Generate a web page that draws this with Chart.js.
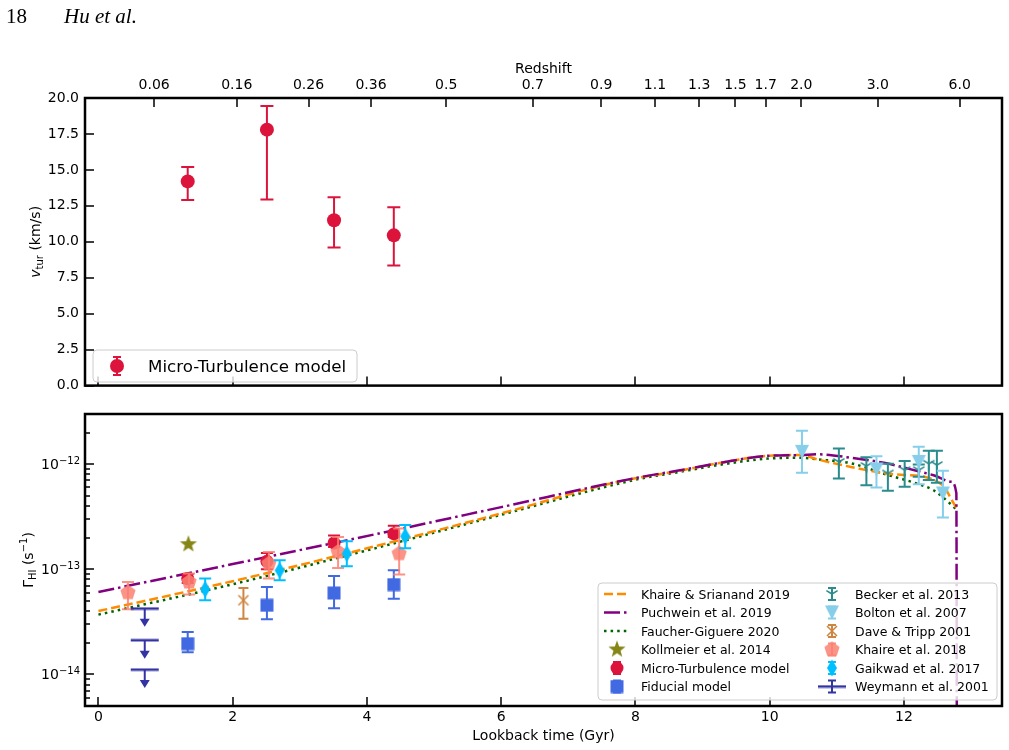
<!DOCTYPE html>
<html>
<head>
<meta charset="utf-8">
<script src="https://cdn.jsdelivr.net/npm/chart.js@4.4.1/dist/chart.umd.min.js"></script>
<style>
    body { margin: 0; background: #fff; }
    #page { position: relative; width: 1009px; height: 750px; overflow: hidden; }
    canvas { position: absolute; left: 0; }
    #cTop { top: 0; }
    #cBot { top: 400px; }
    .hdr { position: absolute; top: 6px; font-family: 'Liberation Serif', serif; font-size: 21px; line-height: 21px; }
</style>
</head>
<body>
<div id="page">
    <canvas id="cTop" width="1009" height="400"></canvas>
    <canvas id="cBot" width="1009" height="350"></canvas>
    <div class="hdr" style="left:6px">18</div>
    <div class="hdr" style="left:64px;font-style:italic">Hu et al.</div>
</div>
<script>
// x axis: lookback time (Gyr), top axis shows redshift
const xMin = -0.2, xMax = 13.46;
const xTicks = [0, 2, 4, 6, 8, 10, 12];
const zLabels = ['0.06', '0.16', '0.26', '0.36', '0.5', '0.7', '0.9', '1.1', '1.3', '1.5', '1.7', '2.0', '3.0', '6.0'];
const zTicks = [0.83, 2.06, 3.13, 4.06, 5.18, 6.47, 7.49, 8.29, 8.95, 9.49, 9.94, 10.47, 11.61, 12.83];

// top panel: turbulent velocity
const vTicks = [0, 2.5, 5, 7.5, 10, 12.5, 15, 17.5, 20];
const tMicro = [1.33, 2.51, 3.51, 4.40];
const vtur = [14.2, 17.8, 11.5, 10.45];
const vturLo = [12.9, 12.95, 9.6, 8.35];
const vturHi = [15.2, 19.45, 13.1, 12.4];

// bottom panel: photoionisation rate
const gMin = 5e-15, gMax = 3e-12;
const gTicks = [1e-14, 1e-13, 1e-12];
const gTickExp = ['\u221214', '\u221213', '\u221212'];

const gMicro = [8.15e-14, 1.19e-13, 1.78e-13, 2.18e-13];
const gMicroLo = [7.4e-14, 1.0e-13, 1.63e-13, 2.03e-13];
const gMicroHi = [9.0e-14, 1.43e-13, 2.1e-13, 2.6e-13];

const gFid = [1.96e-14, 4.54e-14, 5.94e-14, 7.15e-14];
const gFidLo = [1.62e-14, 3.34e-14, 4.26e-14, 5.25e-14];
const gFidHi = [2.53e-14, 6.78e-14, 8.63e-14, 9.77e-14];

const tKoll = [1.34];
const gKoll = [1.73e-13];

const tDave = [2.16];
const gDave = [5.07e-14];
const gDaveLo = [3.39e-14];
const gDaveHi = [6.64e-14];

const tKh18 = [0.44, 1.35, 2.54, 3.57, 4.48];
const gKh18 = [6.0e-14, 7.57e-14, 1.13e-13, 1.46e-13, 1.41e-13];
const gKh18Lo = [4.16e-14, 5.75e-14, 8.15e-14, 1.03e-13, 8.9e-14];
const gKh18Hi = [7.57e-14, 9.1e-14, 1.46e-13, 2.03e-13, 2.44e-13];

const tGaik = [1.59, 2.70, 3.70, 4.57];
const gGaik = [6.45e-14, 9.77e-14, 1.41e-13, 2.06e-13];
const gGaikLo = [5.07e-14, 7.85e-14, 1.07e-13, 1.58e-13];
const gGaikHi = [8.15e-14, 1.22e-13, 1.85e-13, 2.63e-13];

const tWey = [0.69, 0.69, 0.69];
const gWey = [4.23e-14, 2.11e-14, 1.11e-14];
const gWeyLo = [2.83e-14, 1.41e-14, 7.4e-15];

const tBolt = [10.48, 11.59, 12.22, 12.58];
const gBolt = [1.31e-12, 8.9e-13, 1.05e-12, 5.26e-13];
const gBoltLo = [8.26e-13, 6.0e-13, 6.45e-13, 3.1e-13];
const gBoltHi = [2.08e-12, 1.19e-12, 1.46e-12, 8.63e-13];

const tBeck = [11.03, 11.44, 11.76, 12.01, 12.22, 12.37, 12.49];
const gBeck = [1.05e-12, 9.6e-13, 8.15e-13, 8.77e-13, 8.77e-13, 1.01e-12, 9.8e-13];
const gBeckLo = [7.31e-13, 6.31e-13, 5.57e-13, 6.08e-13, 7.6e-13, 7.05e-13, 6.64e-13];
const gBeckHi = [1.41e-12, 1.16e-12, 1.01e-12, 1.07e-12, 9.9e-13, 1.34e-12, 1.34e-12];

// UV background models
const tKS19 = [0, 2, 4.18, 6, 7.74, 8.64, 9.23, 9.97, 10.46, 10.71, 11.21, 11.70, 12.0, 12.3, 12.5, 12.6, 12.7, 12.8];
const gKS19 = [4.0e-14, 7.7e-14, 1.69e-13, 3.4e-13, 6.8e-13, 8.6e-13, 1.02e-12, 1.2e-12, 1.22e-12, 1.11e-12, 9.4e-13, 8.2e-13, 7.9e-13, 7.6e-13, 6.8e-13, 6.1e-13, 4.7e-13, 3.65e-13];
const tP19 = [0, 2, 4.18, 6, 8.04, 8.64, 9.23, 9.97, 10.46, 10.71, 11.21, 11.70, 12.20, 12.44, 12.70, 12.78, 12.79];
const gP19 = [6.08e-14, 1.12e-13, 2.19e-13, 3.9e-13, 7.46e-13, 8.7e-13, 1.02e-12, 1.2e-12, 1.22e-12, 1.24e-12, 1.15e-12, 1.03e-12, 8.6e-13, 7.85e-13, 6.8e-13, 5.3e-13, 1e-16];
const tFG20 = [0, 2, 4.18, 6, 8.04, 8.64, 9.23, 9.97, 10.46, 10.71, 11.21, 11.70, 12.20, 12.44, 12.69, 12.80];
const gFG20 = [3.7e-14, 7.2e-14, 1.62e-13, 3.3e-13, 7.2e-13, 8.4e-13, 9.8e-13, 1.13e-12, 1.15e-12, 1.11e-12, 1.02e-12, 8.1e-13, 6.5e-13, 5.65e-13, 4.2e-13, 3.6e-13];

const RED = '#DC143C', BLUE = '#4169E1', OLIVE = '#868617', PERU = '#CD853F', SALMON = 'rgba(250,128,114,0.85)',
      DSKY = '#00BFFF', NAVY = '#3333a2', SKY = '#87CEEB', TEAL = '#2a8c8c',
      ORANGE = '#FF8C00', PURPLE = '#800080', GREEN = '#006400';
const FONT = "'DejaVu Sans', sans-serif";

Chart.defaults.font.family = FONT;
Chart.defaults.font.size = 14;
Chart.defaults.color = '#000';
Chart.defaults.animation = false;

const pts = (xs, ys) => xs.map((x, i) => ({ x: x, y: ys[i] }));

function marker(w, h, draw) {
    const c = document.createElement('canvas');
    c.width = w; c.height = h;
    const g = c.getContext('2d');
    g.translate(w / 2, h / 2);
    draw(g);
    return c;
}
function poly(g, n, r, r2) {
    g.beginPath();
    const k = r2 ? 2 * n : n;
    for (let i = 0; i < k; i++) {
        const rr = r2 && i % 2 ? r2 : r;
        const a = -Math.PI / 2 + i * 2 * Math.PI / k;
        g.lineTo(rr * Math.cos(a), rr * Math.sin(a));
    }
    g.closePath();
}
const mStar = marker(20, 20, g => { g.fillStyle = OLIVE; poly(g, 5, 9, 3.7); g.fill(); });
const mPent = marker(18, 18, g => { g.fillStyle = SALMON; poly(g, 5, 8); g.fill(); });
const mDiam = marker(12, 20, g => {
    g.fillStyle = DSKY; g.beginPath();
    g.moveTo(0, -8.5); g.lineTo(5, 0); g.lineTo(0, 8.5); g.lineTo(-5, 0); g.closePath(); g.fill();
});
const mTri = marker(16, 16, g => {
    g.fillStyle = SKY; g.beginPath();
    g.moveTo(-7, -7); g.lineTo(7, -7); g.lineTo(0, 7); g.closePath(); g.fill();
});
const mY = marker(16, 16, g => {
    g.strokeStyle = TEAL; g.lineWidth = 1.5; g.beginPath();
    g.moveTo(0, 0); g.lineTo(0, 6.5);
    g.moveTo(0, 0); g.lineTo(5.6, -3.3);
    g.moveTo(0, 0); g.lineTo(-5.6, -3.3);
    g.stroke();
});
const mX = marker(14, 14, g => {
    g.strokeStyle = PERU; g.lineWidth = 1.5; g.beginPath();
    g.moveTo(-5, -5); g.lineTo(5, 5); g.moveTo(5, -5); g.lineTo(-5, 5); g.stroke();
});
const mSq = marker(14, 14, g => { g.fillStyle = BLUE; g.fillRect(-6.5, -6.5, 13, 13); });
const mBar = marker(30, 4, g => { g.fillStyle = NAVY; g.fillRect(-14, -1.25, 28, 2.5); });

function arrowDown(ctx, x, yTip, color) {
    ctx.fillStyle = color;
    ctx.beginPath();
    ctx.moveTo(x - 5, yTip - 8); ctx.lineTo(x + 5, yTip - 8); ctx.lineTo(x, yTip); ctx.closePath(); ctx.fill();
}

// vertical error bars, drawn just under each dataset's markers
const errorBars = {
    id: 'errorBars',
    beforeDatasetDraw(chart, args) {
        const ds = chart.data.datasets[args.index];
        if (!ds.errLo) return;
        const ctx = chart.ctx, a = chart.chartArea, xs = chart.scales.x, ys = chart.scales.y;
        ctx.save();
        ctx.beginPath(); ctx.rect(a.left, a.top, a.right - a.left, a.bottom - a.top); ctx.clip();
        ctx.strokeStyle = ds.errColor; ctx.lineWidth = 2;
        ds.data.forEach((p, i) => {
            const x = xs.getPixelForValue(p.x);
            const yLo = ys.getPixelForValue(ds.errLo[i]);
            if (ds.uplim) {
                const y0 = ys.getPixelForValue(p.y);
                ctx.beginPath(); ctx.moveTo(x, y0); ctx.lineTo(x, yLo - 7); ctx.stroke();
                arrowDown(ctx, x, yLo, ds.errColor);
                return;
            }
            const yHi = ys.getPixelForValue(ds.errHi[i]);
            const c = ds.capW;
            ctx.beginPath();
            ctx.moveTo(x, yLo); ctx.lineTo(x, yHi);
            ctx.moveTo(x - c, yLo); ctx.lineTo(x + c, yLo);
            ctx.moveTo(x - c, yHi); ctx.lineTo(x + c, yHi);
            ctx.stroke();
        });
        ctx.restore();
    }
};

// text with sub/superscripts, centred on (x, y), rotated by angle
function richText(ctx, parts, x, y, angle, align) {
    ctx.save();
    ctx.translate(x, y);
    ctx.rotate(angle);
    ctx.fillStyle = '#000';
    ctx.textBaseline = 'alphabetic';
    ctx.textAlign = 'left';
    let w = 0;
    parts.forEach(p => { ctx.font = p[1]; w += ctx.measureText(p[0]).width; });
    let cx = align === 'right' ? -w : -w / 2;
    parts.forEach(p => { ctx.font = p[1]; ctx.fillText(p[0], cx, p[2]); cx += ctx.measureText(p[0]).width; });
    ctx.restore();
}

function legendBox(ctx, x, y, w, h) {
    ctx.save();
    ctx.beginPath();
    if (ctx.roundRect) ctx.roundRect(x, y, w, h, 4); else ctx.rect(x, y, w, h);
    ctx.fillStyle = 'rgba(255,255,255,0.8)'; ctx.fill();
    ctx.strokeStyle = '#cccccc'; ctx.lineWidth = 1; ctx.stroke();
    ctx.restore();
}

function handle(ctx, e, cx, cy) {
    ctx.save();
    if (e.dash) {
        ctx.strokeStyle = e.color; ctx.lineWidth = 2.5; ctx.setLineDash(e.dash);
        ctx.beginPath(); ctx.moveTo(cx - 13, cy); ctx.lineTo(cx + 13, cy); ctx.stroke();
        ctx.restore();
        return;
    }
    if (e.err) {
        const h = e.err, c = 4;
        ctx.strokeStyle = e.color; ctx.lineWidth = 2;
        ctx.beginPath();
        ctx.moveTo(cx, cy - h); ctx.lineTo(cx, cy + h);
        ctx.moveTo(cx - c, cy - h); ctx.lineTo(cx + c, cy - h);
        ctx.moveTo(cx - c, cy + h); ctx.lineTo(cx + c, cy + h);
        ctx.stroke();
    }
    if (e.circle) {
        ctx.fillStyle = e.color; ctx.beginPath(); ctx.arc(cx, cy, e.circle, 0, 2 * Math.PI); ctx.fill();
    }
    if (e.img) ctx.drawImage(e.img, cx - e.img.width / 2, cy - e.img.height / 2);
    ctx.restore();
}

function tickMarks(ctx, list, len) {
    ctx.beginPath();
    list.forEach(t => { ctx.moveTo(t[0], t[1]); ctx.lineTo(t[0] + t[2] * len, t[1] + t[3] * len); });
    ctx.stroke();
}

const topDecor = {
    id: 'topDecor',
    afterDraw(chart) {
        const ctx = chart.ctx, a = chart.chartArea, xs = chart.scales.x, ys = chart.scales.y;
        ctx.save();
        ctx.strokeStyle = '#000'; ctx.lineWidth = 1.5;
        tickMarks(ctx, vTicks.map(v => [a.left, Math.round(ys.getPixelForValue(v)), 1, 0]), 9);
        tickMarks(ctx, xTicks.map(v => [Math.round(xs.getPixelForValue(v)), a.bottom, 0, -1]), 9);
        tickMarks(ctx, zTicks.map(v => [Math.round(xs.getPixelForValue(v)), a.top, 0, 1]), 9);
        ctx.lineWidth = 2.5;
        ctx.strokeRect(a.left, a.top, a.right - a.left, a.bottom - a.top);
        ctx.fillStyle = '#000'; ctx.font = '14px ' + FONT; ctx.textAlign = 'center';
        ctx.fillText('Redshift', (a.left + a.right) / 2, 73);
        richText(ctx, [['v', 'italic 14px ' + FONT, 0], ['tur', '10px ' + FONT, 3], [' (km/s)', '14px ' + FONT, 0]],
            40, (a.top + a.bottom) / 2, -Math.PI / 2);
        legendBox(ctx, 93, 350, 264, 32);
        handle(ctx, { color: RED, err: 9, circle: 7 }, 117, 366);
        ctx.fillStyle = '#000'; ctx.font = '16.7px ' + FONT; ctx.textAlign = 'left';
        ctx.fillText('Micro-Turbulence model', 148, 372);
        ctx.restore();
    }
};

const legL = [
    { label: 'Khaire & Srianand 2019', color: ORANGE, dash: [9, 4] },
    { label: 'Puchwein et al. 2019', color: PURPLE, dash: [16, 4, 2.5, 4] },
    { label: 'Faucher-Giguere 2020', color: GREEN, dash: [2.5, 4.1] },
    { label: 'Kollmeier et al. 2014', img: mStar },
    { label: 'Micro-Turbulence model', color: RED, err: 6, circle: 6.5 },
    { label: 'Fiducial model', color: BLUE, err: 6, img: mSq }
];
const legR = [
    { label: 'Becker et al. 2013', color: TEAL, err: 6, img: mY },
    { label: 'Bolton et al. 2007', color: SKY, err: 6, img: mTri },
    { label: 'Dave & Tripp 2001', color: PERU, err: 6, img: mX },
    { label: 'Khaire et al. 2018', color: SALMON, err: 6, img: mPent },
    { label: 'Gaikwad et al. 2017', color: DSKY, err: 6, img: mDiam },
    { label: 'Weymann et al. 2001', color: NAVY, err: 6, img: mBar }
];

const botDecor = {
    id: 'botDecor',
    afterDraw(chart) {
        const ctx = chart.ctx, a = chart.chartArea, xs = chart.scales.x, ys = chart.scales.y;
        ctx.save();
        ctx.strokeStyle = '#000'; ctx.lineWidth = 1.5;
        const minor = [];
        for (let e = -15; e <= -12; e++) {
            for (let m = 2; m <= 9; m++) {
                const v = m * Math.pow(10, e);
                if (v > gMin && v < gMax) minor.push([a.left, Math.round(ys.getPixelForValue(v)), 1, 0]);
            }
        }
        tickMarks(ctx, minor, 5);
        tickMarks(ctx, gTicks.map(v => [a.left, Math.round(ys.getPixelForValue(v)), 1, 0]), 9);
        tickMarks(ctx, xTicks.map(v => [Math.round(xs.getPixelForValue(v)), a.bottom, 0, -1]), 9);
        ctx.lineWidth = 2.5;
        ctx.strokeRect(a.left, a.top, a.right - a.left, a.bottom - a.top);
        gTicks.forEach((v, i) => {
            const y = ys.getPixelForValue(v) + 5;
            richText(ctx, [['10', '14px ' + FONT, 0], [gTickExp[i], '10px ' + FONT, -5.5]], a.left - 5, y, 0, 'right');
        });
        ctx.fillStyle = '#000'; ctx.font = '14px ' + FONT; ctx.textAlign = 'center';
        ctx.fillText('Lookback time (Gyr)', (a.left + a.right) / 2, 340);
        richText(ctx, [['\u0393', '14px ' + FONT, 0], ['HI', '10px ' + FONT, 3], [' (s', '14px ' + FONT, 0],
            ['\u22121', '10px ' + FONT, -6], [')', '14px ' + FONT, 0]], 33, (a.top + a.bottom) / 2, -Math.PI / 2);

        legendBox(ctx, 598, 183, 399, 117);
        ctx.font = '12.5px ' + FONT; ctx.textAlign = 'left';
        legL.forEach((e, i) => {
            const cy = 194 + i * 18.5;
            handle(ctx, e, 617, cy);
            ctx.fillStyle = '#000'; ctx.fillText(e.label, 641, cy + 4.5);
        });
        legR.forEach((e, i) => {
            const cy = 194 + i * 18.5;
            handle(ctx, e, 832, cy);
            ctx.fillStyle = '#000'; ctx.fillText(e.label, 855, cy + 4.5);
        });
        ctx.restore();
    }
};

const noGrid = { display: false, drawTicks: false };
const noBorder = { display: false };

new Chart(document.getElementById('cTop'), {
    type: 'scatter',
    data: {
        datasets: [{
            label: 'Micro-Turbulence model',
            data: pts(tMicro, vtur),
            pointStyle: 'circle', pointRadius: 7, backgroundColor: RED, borderWidth: 0,
            errLo: vturLo, errHi: vturHi, errColor: RED, capW: 6.5
        }]
    },
    options: {
        responsive: false,
        animation: false,
        layout: { padding: { left: 0, right: 7, top: 0, bottom: 0 } },
        plugins: { legend: { display: false }, tooltip: { enabled: false } },
        scales: {
            x: {
                type: 'linear', position: 'bottom', min: xMin, max: xMax,
                grid: noGrid, border: noBorder, ticks: { display: false },
                afterFit: s => { s.height = 10; }
            },
            x2: {
                type: 'linear', position: 'top', min: xMin, max: xMax,
                grid: noGrid, border: noBorder,
                afterBuildTicks: s => { s.ticks = zTicks.map(v => ({ value: v })); },
                ticks: { autoSkip: false, maxRotation: 0, padding: 4, callback: (v, i) => zLabels[i] },
                afterFit: s => { s.height = 98; }
            },
            y: {
                type: 'linear', min: 0, max: 20,
                grid: noGrid, border: noBorder,
                afterBuildTicks: s => { s.ticks = vTicks.map(v => ({ value: v })); },
                ticks: { padding: 6, callback: v => v.toFixed(1) },
                afterFit: s => { s.width = 85; }
            }
        }
    },
    plugins: [errorBars, topDecor]
});

const curve = (label, xs, ys, color, dash, order) => ({
    label: label, data: pts(xs, ys), showLine: true, borderColor: color, borderWidth: 2.5,
    borderDash: dash, pointRadius: 0, cubicInterpolationMode: 'monotone', order: order
});
const pointSet = (label, xs, ys, style, order, extra) => Object.assign({
    label: label, data: pts(xs, ys), pointStyle: style, pointRadius: 5, borderWidth: 0, order: order
}, extra || {});

new Chart(document.getElementById('cBot'), {
    type: 'scatter',
    data: {
        datasets: [
            curve('Khaire & Srianand 2019', tKS19, gKS19, ORANGE, [9, 4], 21),
            curve('Puchwein et al. 2019', tP19, gP19, PURPLE, [16, 4, 2.5, 4], 20),
            curve('Faucher-Giguere 2020', tFG20, gFG20, GREEN, [2.5, 4.1], 22),
            pointSet('Kollmeier et al. 2014', tKoll, gKoll, mStar, 7),
            pointSet('Micro-Turbulence model', tMicro, gMicro, 'circle', 8,
                { pointRadius: 6.5, backgroundColor: RED, errLo: gMicroLo, errHi: gMicroHi, errColor: RED, capW: 6 }),
            pointSet('Fiducial model', tMicro, gFid, mSq, 9,
                { errLo: gFidLo, errHi: gFidHi, errColor: BLUE, capW: 6 }),
            pointSet('Becker et al. 2013', tBeck, gBeck, mY, 3,
                { errLo: gBeckLo, errHi: gBeckHi, errColor: TEAL, capW: 6 }),
            pointSet('Bolton et al. 2007', tBolt, gBolt, mTri, 2,
                { errLo: gBoltLo, errHi: gBoltHi, errColor: SKY, capW: 6 }),
            pointSet('Dave & Tripp 2001', tDave, gDave, mX, 6,
                { errLo: gDaveLo, errHi: gDaveHi, errColor: PERU, capW: 5 }),
            pointSet('Khaire et al. 2018', tKh18, gKh18, mPent, 5,
                { errLo: gKh18Lo, errHi: gKh18Hi, errColor: SALMON, capW: 6 }),
            pointSet('Gaikwad et al. 2017', tGaik, gGaik, mDiam, 4,
                { errLo: gGaikLo, errHi: gGaikHi, errColor: DSKY, capW: 6 }),
            pointSet('Weymann et al. 2001', tWey, gWey, mBar, 1,
                { errLo: gWeyLo, errColor: NAVY, uplim: true })
        ]
    },
    options: {
        responsive: false,
        animation: false,
        layout: { padding: { left: 0, right: 7, top: 14, bottom: 0 } },
        plugins: { legend: { display: false }, tooltip: { enabled: false } },
        scales: {
            x: {
                type: 'linear', position: 'bottom', min: xMin, max: xMax,
                grid: noGrid, border: noBorder,
                afterBuildTicks: s => { s.ticks = xTicks.map(v => ({ value: v })); },
                ticks: { autoSkip: false, maxRotation: 0, padding: 3 },
                afterFit: s => { s.height = 44; }
            },
            y: {
                type: 'logarithmic', min: gMin, max: gMax,
                grid: noGrid, border: noBorder, ticks: { display: false },
                afterFit: s => { s.width = 85; }
            }
        }
    },
    plugins: [errorBars, botDecor]
});
</script>
</body>
</html>
